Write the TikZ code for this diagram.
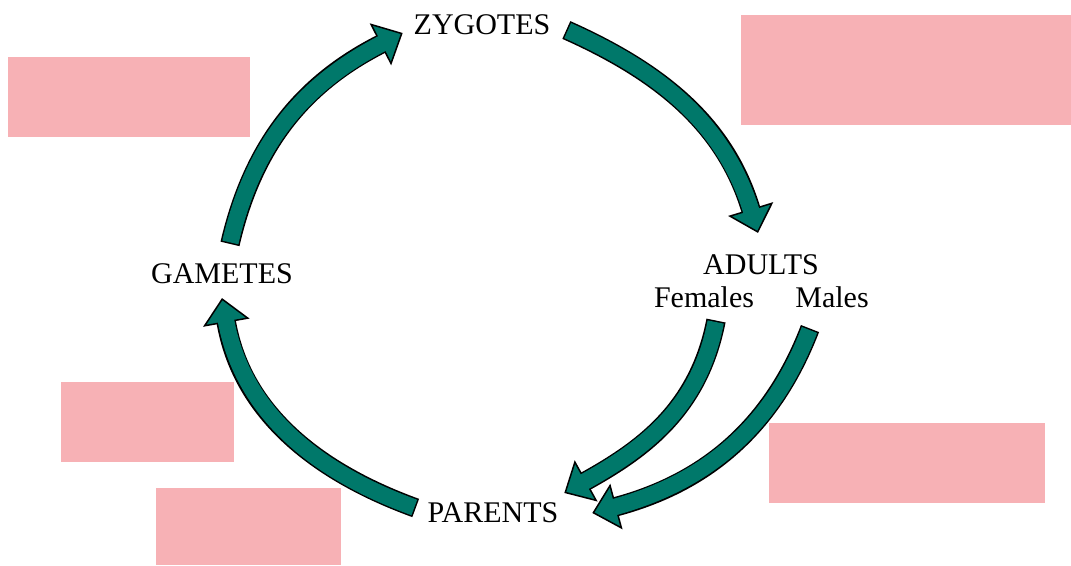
\documentclass[tikz,border=0pt]{standalone}
\usepackage{fontspec}
\setmainfont{Liberation Serif}
\usetikzlibrary{arrows.meta}
\definecolor{cycteal}{RGB}{0,120,106}
\definecolor{blankpink}{RGB}{247,177,181}
\tikzset{
  stage/.style={inner sep=0pt, outer sep=0pt, font=\fontsize{30}{36}\selectfont},
  blank/.style={fill=blankpink},
  cycarrow/.style={draw=cycteal, line width=16.5pt, shorten <=1.5pt, shorten >=21pt,
    preaction={draw=black, line width=19.5pt, shorten <=0pt, shorten >=0pt,
      -{Triangle[length=25pt, width=47pt, line width=1.5pt, color=black, fill=cycteal]}}}
}
\begin{document}
\begin{tikzpicture}[x=1pt, y=1pt]
	  \useasboundingbox (0,0) rectangle (1071,565);
	  % empty label boxes
	  \fill[blank] (8,428) rectangle (250,508);
	  \fill[blank] (741,440) rectangle (1071,550);
	  \fill[blank] (61,103) rectangle (234,183);
	  \fill[blank] (156,0) rectangle (341,77);
	  \fill[blank] (769,62) rectangle (1045,142);
	  % stages of the cycle
	  \node[stage] (zyg) at (482,540) {ZYGOTES};
	  \node[stage] (adu) at (761,300) {ADULTS};
	  \node[stage] (fem) at (704,268) {Females};
	  \node[stage] (mal) at (832,268) {Males};
	  \node[stage] (par) at (493,52) {PARENTS};
	  \node[stage] (gam) at (222,291) {GAMETES};
	  % arrows round the cycle
	  \draw[cycarrow] ([shift={(8,20)}]gam.north) to[out=77,in=207] ([shift={(-11,-8)}]zyg.west);
	  \draw[cycarrow] ([shift={(16,-5)}]zyg.east) to[out=-24,in=107] ([shift={(-3,22)}]adu.north);
	  \draw[cycarrow] ([shift={(-12,5)}]par.west) to[out=160,in=-80] ([shift={(0,-14)}]gam.south);
	  \draw[cycarrow] ([shift={(-22,-21)}]mal.south) to[out=249,in=15] ([shift={(34,0)}]par.east);
	  \draw[cycarrow] ([shift={(12,-13)}]fem.south) to[out=259,in=29] ([shift={(6,20)}]par.east);
\end{tikzpicture}
\end{document}
